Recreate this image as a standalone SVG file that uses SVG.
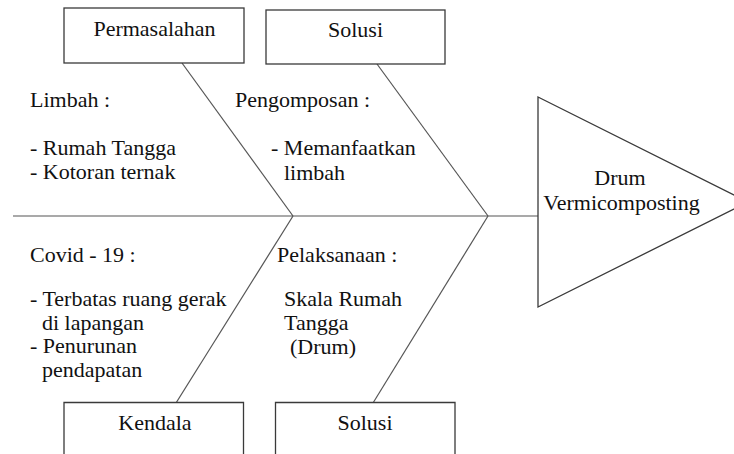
<svg xmlns="http://www.w3.org/2000/svg" width="734" height="454" viewBox="0 0 734 454" font-family="Liberation Serif, Times New Roman, serif" font-size="22">
<style>
.box{fill:#fff;stroke:#3a3a3a;stroke-width:1.3}
.ln{fill:none;stroke:#555;stroke-width:1.2}
.t{font-family:"Liberation Serif","Times New Roman",serif;font-size:22px;fill:#111}
.c{text-anchor:middle}
</style>
<rect width="734" height="454" fill="#fff"/>
<g id="connectors">
<line class="ln" x1="13" y1="216" x2="538" y2="216"/>
<line class="ln" x1="182" y1="63" x2="293" y2="216"/>
<line class="ln" x1="293" y1="216" x2="176" y2="403"/>
<line class="ln" x1="377" y1="64" x2="488" y2="216"/>
<line class="ln" x1="488" y1="216" x2="373" y2="403"/>
</g>
<g id="permasalahan">
<rect class="box" x="64" y="8" width="180" height="55"/>
<text class="t c" x="154.5" y="36">Permasalahan</text>
</g>
<g id="solusi-top">
<rect class="box" x="266" y="10" width="179" height="54"/>
<text class="t c" x="355.5" y="37">Solusi</text>
</g>
<g id="kendala">
<path class="box" d="M64,460 V402.5 H243.5 V460"/>
<text class="t c" x="155" y="429.5">Kendala</text>
</g>
<g id="solusi-bottom">
<path class="box" d="M275.5,460 V402.5 H455 V460"/>
<text class="t c" x="365" y="429.5">Solusi</text>
</g>
<g id="head">
<path class="box" d="M538,97 L748,202 L538,307 Z"/>
<text class="t c" x="620" y="185">Drum</text>
<text class="t c" x="621.5" y="210">Vermicomposting</text>
</g>
<g id="limbah">
<text class="t" x="30" y="107">Limbah :</text>
<text class="t" x="30" y="155">- Rumah Tangga</text>
<text class="t" x="30" y="179">- Kotoran ternak</text>
</g>
<g id="pengomposan">
<text class="t" x="235" y="107">Pengomposan :</text>
<text class="t" x="271" y="155">- Memanfaatkan</text>
<text class="t" x="284" y="180">limbah</text>
</g>
<g id="covid">
<text class="t" x="30" y="262">Covid - 19 :</text>
<text class="t" x="30" y="306">- Terbatas ruang gerak</text>
<text class="t" x="42" y="329.5">di lapangan</text>
<text class="t" x="30" y="353">- Penurunan</text>
<text class="t" x="42" y="376.5">pendapatan</text>
</g>
<g id="pelaksanaan">
<text class="t" x="277" y="262">Pelaksanaan :</text>
<text class="t" x="284" y="306">Skala Rumah</text>
<text class="t" x="284" y="330">Tangga</text>
<text class="t" x="290" y="354">(Drum)</text>
</g>
</svg>
